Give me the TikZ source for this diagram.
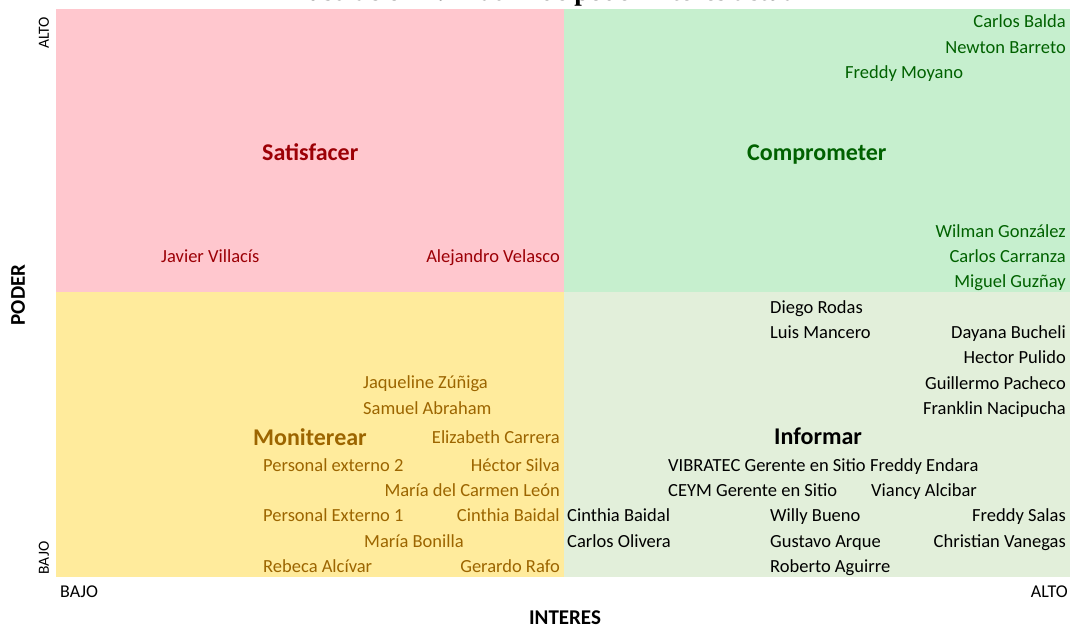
\documentclass[tikz,border=0pt]{standalone}
\usepackage{fontspec}
\setmainfont{Carlito}
\newfontfamily\titlefont{Liberation Serif}
\definecolor{pinkfill}{HTML}{FFC7CE}
\definecolor{pinktext}{HTML}{9C0006}
\definecolor{greenfill}{HTML}{C6EFCE}
\definecolor{greentext}{HTML}{006100}
\definecolor{yellowfill}{HTML}{FFEB9C}
\definecolor{yellowtext}{HTML}{9C6500}
\definecolor{lightgreen}{HTML}{E2EFDA}
\tikzset{
  nm/.style={inner sep=0pt, font=\fontsize{18.5}{20}\selectfont},
  hdr/.style={inner sep=0pt, font=\fontsize{24}{26}\selectfont\bfseries},
  gtx/.style={text=greentext},
  ptx/.style={text=pinktext},
  ytx/.style={text=yellowtext},
  btx/.style={text=black},
  L/.style={anchor=base west},
  R/.style={anchor=base east},
  axis/.style={inner sep=0pt, font=\fontsize{15.5}{17}\selectfont},
  axisb/.style={inner sep=0pt, font=\fontsize{18}{20}\selectfont},
  axtitle/.style={inner sep=0pt, font=\fontsize{21}{23}\selectfont\bfseries}
}
\begin{document}
\begin{tikzpicture}[x=1pt,y=-1pt]
\useasboundingbox (0,0) rectangle (1073,628);
% title (clipped at the top edge, as in the reference)
\node[inner sep=0pt, anchor=base, font=\fontsize{27}{29}\titlefont\bfseries] (title) at (547,1) {Ilustración 4: Matriz de poder interés actual};
% quadrants
\fill[pinkfill] (56,9) rectangle (564,292);
\fill[greenfill] (564,9) rectangle (1070,292);
\fill[yellowfill] (56,292) rectangle (564,577);
\fill[lightgreen] (564,292) rectangle (1070,577);
% Comprometer
\node[nm,gtx,R] (balda) at (1066,27.5) {Carlos Balda};
\node[nm,gtx,R] (barreto) at (1066,53.5) {Newton Barreto};
\node[nm,gtx,L] (moyano) at (845,78.5) {Freddy Moyano};
\node[hdr,gtx,L] (comprometer) at (747,161) {Comprometer};
\node[nm,gtx,R] (gonzalez) at (1066,237.5) {Wilman González};
\node[nm,gtx,R] (carranza) at (1066,262.5) {Carlos Carranza};
\node[nm,gtx,R] (guznay) at (1066,287.5) {Miguel Guzñay};
% Satisfacer
\node[hdr,ptx,L] (satisfacer) at (262,161) {Satisfacer};
\node[nm,ptx,L] (villacis) at (161,262.5) {Javier Villacís};
\node[nm,ptx,R] (velasco) at (560,262.5) {Alejandro Velasco};
% Informar
\node[nm,btx,L] (rodas) at (770,313.5) {Diego Rodas};
\node[nm,btx,L] (mancero) at (770,338.5) {Luis Mancero};
\node[nm,btx,R] (bucheli) at (1066,338.5) {Dayana Bucheli};
\node[nm,btx,R] (pulido) at (1066,363.5) {Hector Pulido};
\node[nm,btx,R] (pacheco) at (1066,389.5) {Guillermo Pacheco};
\node[nm,btx,R] (nacipucha) at (1066,414.5) {Franklin Nacipucha};
\node[hdr,btx,L] (informar) at (774,444) {Informar};
\begin{scope}
\clip (600,450) rectangle (869,485);
\node[nm,btx,L] (vibratec) at (668,471.5) {VIBRATEC Gerente en Sitio};
\end{scope}
\node[nm,btx,L] (endara) at (870,471.5) {Freddy Endara};
\node[nm,btx,L] (ceym) at (668,496.5) {CEYM Gerente en Sitio};
\node[nm,btx,L] (alcibar) at (871,496.5) {Viancy Alcibar};
\node[nm,btx,L] (cinthiab) at (567,521.5) {Cinthia Baidal};
\node[nm,btx,L] (bueno) at (770,521.5) {Willy Bueno};
\node[nm,btx,R] (salas) at (1066,521.5) {Freddy Salas};
\node[nm,btx,L] (olivera) at (567,547.5) {Carlos Olivera};
\node[nm,btx,L] (arque) at (770,547.5) {Gustavo Arque};
\node[nm,btx,R] (vanegas) at (1066,547.5) {Christian Vanegas};
\node[nm,btx,L] (aguirre) at (770,572.5) {Roberto Aguirre};
% Moniterear
\node[nm,ytx,L] (zuniga) at (363,388.5) {Jaqueline Zúñiga};
\node[nm,ytx,L] (abraham) at (363,414.5) {Samuel Abraham};
\node[hdr,ytx,L] (moniterear) at (253,445) {Moniterear};
\node[nm,ytx,R] (carrera) at (560,443.5) {Elizabeth Carrera};
\node[nm,ytx,L] (pext2) at (263,471.5) {Personal externo 2};
\node[nm,ytx,R] (silva) at (560,471.5) {Héctor Silva};
\node[nm,ytx,R] (leon) at (560,496.5) {María del Carmen León};
\node[nm,ytx,L] (pext1) at (263,521.5) {Personal Externo 1};
\node[nm,ytx,R] (cinthiay) at (560,521.5) {Cinthia Baidal};
\node[nm,ytx,L] (bonilla) at (364,547.5) {María Bonilla};
\node[nm,ytx,L] (alcivar) at (263,572.5) {Rebeca Alcívar};
\node[nm,ytx,R] (rafo) at (560,572.5) {Gerardo Rafo};
% axes
\node[axis, rotate=90] (yalto) at (44,33) {ALTO};
\node[axis, rotate=90] (ybajo) at (44,558) {BAJO};
\node[axtitle, rotate=90] (poder) at (18,295) {PODER};
\node[axisb, L] (xbajo) at (60,597.5) {BAJO};
\node[axisb, R] (xalto) at (1068,597.5) {ALTO};
\node[axtitle, anchor=base] (interes) at (565,624) {INTERES};
\end{tikzpicture}
\end{document}
